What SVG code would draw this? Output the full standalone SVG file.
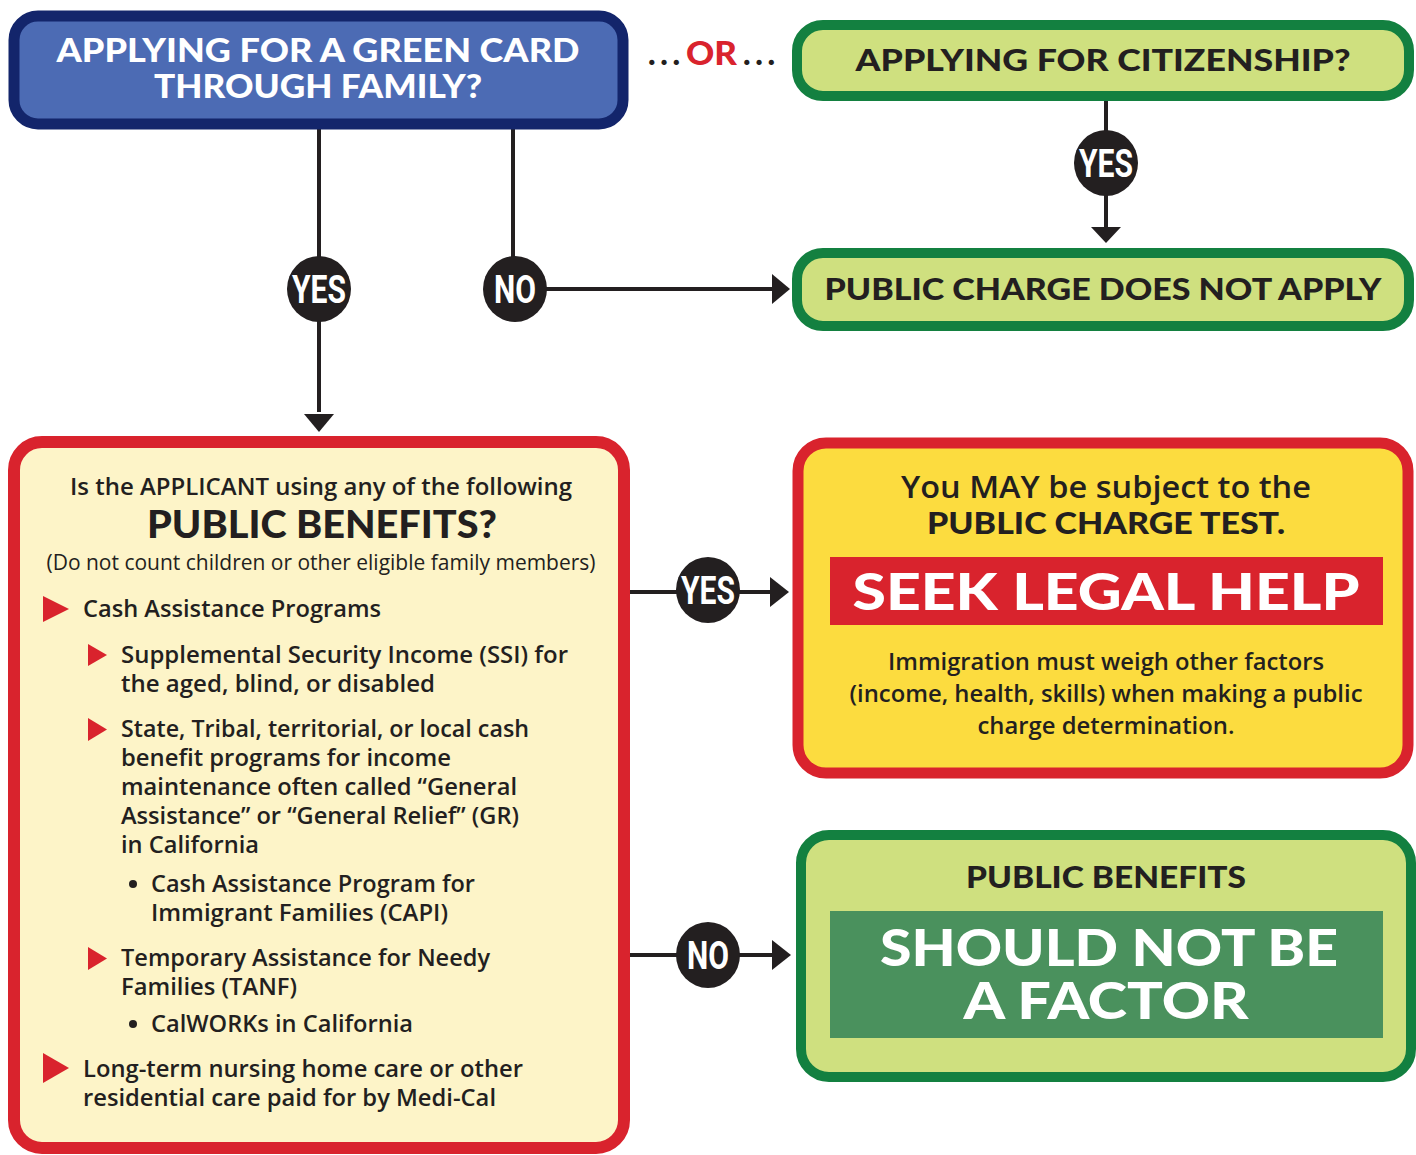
<svg xmlns="http://www.w3.org/2000/svg" width="1416" height="1155" viewBox="0 0 1416 1155">
<defs>
<style>
.h{font-family:Lato,"Open Sans","Liberation Sans",sans-serif;font-weight:900;}
.b{font-family:"Open Sans","Noto Sans","Liberation Sans",sans-serif;font-weight:600;fill:#231f20;}
.r{font-family:"Open Sans","Noto Sans","Liberation Sans",sans-serif;font-weight:400;fill:#231f20;}
.c{font-family:Roboto,"Liberation Sans",sans-serif;font-weight:700;fill:#fff;}
.ln{stroke:#231f20;stroke-width:4;fill:none;}
.dot{fill:#231f20;}
.tri{fill:#d9232d;}
</style>
</defs>

<g id="connectors">
<line class="ln" x1="319" y1="129" x2="319" y2="412"/>
<path d="M304,414 L334,414 L319,432 Z" fill="#231f20"/>
<line class="ln" x1="513" y1="129" x2="513" y2="270"/>
<line class="ln" x1="545" y1="289" x2="772" y2="289"/>
<path d="M772,274 L790,289 L772,304 Z" fill="#231f20"/>
<line class="ln" x1="1106" y1="101" x2="1106" y2="228"/>
<path d="M1091,227 L1121,227 L1106,243 Z" fill="#231f20"/>
<line class="ln" x1="630" y1="592" x2="772" y2="592"/>
<path d="M770,577 L789,592 L770,607 Z" fill="#231f20"/>
<line class="ln" x1="630" y1="955" x2="774" y2="955"/>
<path d="M772,940 L791,955 L772,970 Z" fill="#231f20"/>
</g>

<g id="label-yes-1">
<ellipse cx="319" cy="289" rx="32" ry="33" class="dot"/>
<text x="319" y="303" class="c" font-size="38" text-anchor="middle" textLength="54" lengthAdjust="spacingAndGlyphs">YES</text>
</g>
<g id="label-no-1">
<ellipse cx="515" cy="289" rx="32" ry="33" class="dot"/>
<text x="515" y="303" class="c" font-size="38" text-anchor="middle" textLength="42" lengthAdjust="spacingAndGlyphs">NO</text>
</g>
<g id="label-yes-2">
<ellipse cx="1106" cy="163" rx="32" ry="33" class="dot"/>
<text x="1106" y="177" class="c" font-size="38" text-anchor="middle" textLength="54" lengthAdjust="spacingAndGlyphs">YES</text>
</g>
<g id="label-yes-3">
<ellipse cx="708" cy="590" rx="32" ry="33" class="dot"/>
<text x="708" y="604" class="c" font-size="38" text-anchor="middle" textLength="54" lengthAdjust="spacingAndGlyphs">YES</text>
</g>
<g id="label-no-2">
<ellipse cx="708" cy="955" rx="32" ry="33" class="dot"/>
<text x="708" y="969" class="c" font-size="38" text-anchor="middle" textLength="42" lengthAdjust="spacingAndGlyphs">NO</text>
</g>

<g id="green-card">
<rect x="14" y="16" width="609" height="108" rx="24" fill="#4c6bb4" stroke="#13256b" stroke-width="11"/>
<text x="318" y="62" class="h" font-size="33" fill="#fff" text-anchor="middle" textLength="523" lengthAdjust="spacingAndGlyphs">APPLYING FOR A GREEN CARD</text>
<text x="318" y="98" class="h" font-size="33" fill="#fff" text-anchor="middle" textLength="328" lengthAdjust="spacingAndGlyphs">THROUGH FAMILY?</text>
</g>

<g id="or-label">
<text x="648" y="65" class="h" font-size="32" fill="#231f20" textLength="32" lengthAdjust="spacing">...</text>
<text x="686" y="65" class="h" font-size="32" fill="#d9232d" textLength="51" lengthAdjust="spacingAndGlyphs">OR</text>
<text x="743" y="65" class="h" font-size="32" fill="#231f20" textLength="32" lengthAdjust="spacing">...</text>
</g>

<g id="citizenship">
<rect x="797" y="25" width="612" height="71" rx="26" fill="#cfe07f" stroke="#138040" stroke-width="10"/>
<text x="1103" y="71" class="h" font-size="30" fill="#231f20" text-anchor="middle" textLength="495" lengthAdjust="spacingAndGlyphs">APPLYING FOR CITIZENSHIP?</text>
</g>

<g id="does-not-apply">
<rect x="797" y="253" width="612" height="73" rx="26" fill="#cfe07f" stroke="#138040" stroke-width="10"/>
<text x="1103" y="300" class="h" font-size="30" fill="#231f20" text-anchor="middle" textLength="557" lengthAdjust="spacingAndGlyphs">PUBLIC CHARGE DOES NOT APPLY</text>
</g>

<g id="public-benefits-question">
<rect x="14" y="442" width="610" height="706" rx="28" fill="#fdf4c8" stroke="#d9232d" stroke-width="12"/>
<text x="321" y="495" class="b" font-size="24" text-anchor="middle" textLength="502" lengthAdjust="spacingAndGlyphs">Is the APPLICANT using any of the following</text>
<text x="322" y="538" class="h" font-size="37" fill="#231f20" text-anchor="middle" textLength="350" lengthAdjust="spacingAndGlyphs">PUBLIC BENEFITS?</text>
<text x="321" y="570" class="r" font-size="22" text-anchor="middle" textLength="549" lengthAdjust="spacingAndGlyphs">(Do not count children or other eligible family members)</text>

<path class="tri" d="M43,596 L69,609 L43,622 Z"/>
<text x="83" y="617" class="b" font-size="24" textLength="298" lengthAdjust="spacingAndGlyphs">Cash Assistance Programs</text>

<path class="tri" d="M88,644 L107,655 L88,666 Z"/>
<text x="121" y="663" class="b" font-size="24" textLength="447" lengthAdjust="spacingAndGlyphs">Supplemental Security Income (SSI) for</text>
<text x="121" y="692" class="b" font-size="24" textLength="314" lengthAdjust="spacingAndGlyphs">the aged, blind, or disabled</text>

<path class="tri" d="M88,718 L107,729.5 L88,741 Z"/>
<text x="121" y="737" class="b" font-size="24" textLength="408" lengthAdjust="spacingAndGlyphs">State, Tribal, territorial, or local cash</text>
<text x="121" y="766" class="b" font-size="24" textLength="330" lengthAdjust="spacingAndGlyphs">benefit programs for income</text>
<text x="121" y="795" class="b" font-size="24" textLength="396" lengthAdjust="spacingAndGlyphs">maintenance often called “General</text>
<text x="121" y="824" class="b" font-size="24" textLength="398" lengthAdjust="spacingAndGlyphs">Assistance” or “General Relief” (GR)</text>
<text x="121" y="853" class="b" font-size="24" textLength="138" lengthAdjust="spacingAndGlyphs">in California</text>

<circle cx="133" cy="884" r="4" class="dot"/>
<text x="151" y="892" class="b" font-size="24" textLength="324" lengthAdjust="spacingAndGlyphs">Cash Assistance Program for</text>
<text x="151" y="921" class="b" font-size="24" textLength="297" lengthAdjust="spacingAndGlyphs">Immigrant Families (CAPI)</text>

<path class="tri" d="M88,947 L107,958.5 L88,970 Z"/>
<text x="121" y="966" class="b" font-size="24" textLength="369" lengthAdjust="spacingAndGlyphs">Temporary Assistance for Needy</text>
<text x="121" y="995" class="b" font-size="24" textLength="176" lengthAdjust="spacingAndGlyphs">Families (TANF)</text>

<circle cx="133" cy="1024" r="4" class="dot"/>
<text x="151" y="1032" class="b" font-size="24" textLength="262" lengthAdjust="spacingAndGlyphs">CalWORKs in California</text>

<path class="tri" d="M43,1053 L69,1068 L43,1083 Z"/>
<text x="83" y="1077" class="b" font-size="24" textLength="440" lengthAdjust="spacingAndGlyphs">Long-term nursing home care or other</text>
<text x="83" y="1106" class="b" font-size="24" textLength="413" lengthAdjust="spacingAndGlyphs">residential care paid for by Medi-Cal</text>
</g>

<g id="seek-legal-help">
<rect x="798" y="443" width="610" height="330" rx="28" fill="#fcdc3f" stroke="#d9232d" stroke-width="11"/>
<text x="1106" y="498" class="b" font-size="30" text-anchor="middle" textLength="410" lengthAdjust="spacingAndGlyphs">You MAY be subject to the</text>
<text x="1106" y="534" class="h" font-size="30" fill="#231f20" text-anchor="middle" textLength="358" lengthAdjust="spacingAndGlyphs">PUBLIC CHARGE TEST.</text>
<rect x="830" y="557" width="553" height="68" fill="#d9232d"/>
<text x="1106" y="610" class="h" font-size="52" fill="#fff" text-anchor="middle" textLength="507" lengthAdjust="spacingAndGlyphs">SEEK LEGAL HELP</text>
<text x="1106" y="670" class="b" font-size="24" text-anchor="middle" textLength="436" lengthAdjust="spacingAndGlyphs">Immigration must weigh other factors</text>
<text x="1106" y="702" class="b" font-size="24" text-anchor="middle" textLength="513" lengthAdjust="spacingAndGlyphs">(income, health, skills) when making a public</text>
<text x="1106" y="734" class="b" font-size="24" text-anchor="middle" textLength="257" lengthAdjust="spacingAndGlyphs">charge determination.</text>
</g>

<g id="not-a-factor">
<rect x="801" y="835" width="610" height="242" rx="28" fill="#cfe07f" stroke="#138040" stroke-width="10"/>
<text x="1106" y="888" class="h" font-size="30" fill="#231f20" text-anchor="middle" textLength="280" lengthAdjust="spacingAndGlyphs">PUBLIC BENEFITS</text>
<rect x="830" y="911" width="553" height="127" fill="#4a915d"/>
<text x="1109" y="966" class="h" font-size="52" fill="#fff" text-anchor="middle" textLength="458" lengthAdjust="spacingAndGlyphs">SHOULD NOT BE</text>
<text x="1106" y="1019" class="h" font-size="52" fill="#fff" text-anchor="middle" textLength="285" lengthAdjust="spacingAndGlyphs">A FACTOR</text>
</g>
</svg>
